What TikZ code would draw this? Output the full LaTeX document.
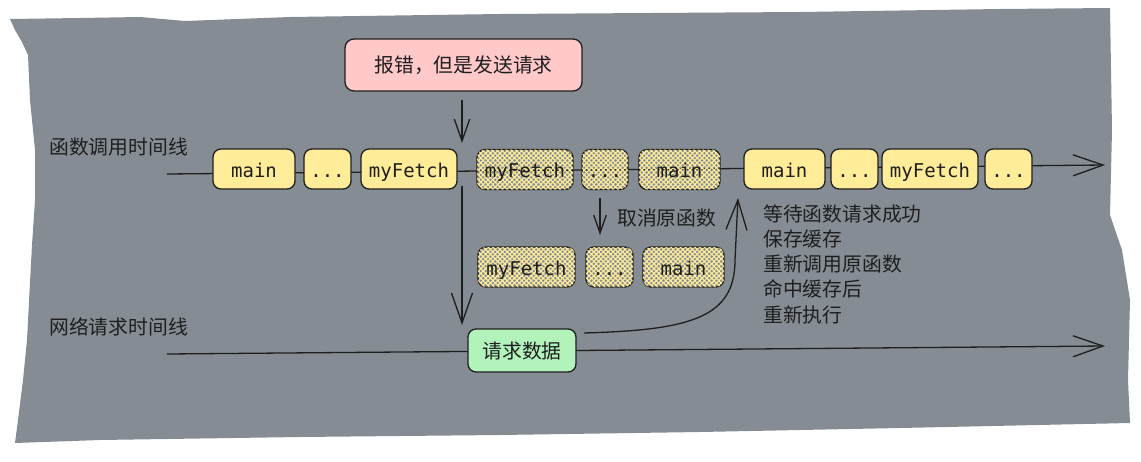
\documentclass[tikz,border=0pt]{standalone}
\usepackage{fontspec}
\newfontfamily\cjk{Noto Sans CJK SC}
\newfontfamily\monof{DejaVu Sans Mono}
\usetikzlibrary{arrows.meta,patterns.meta}
\definecolor{bggray}{HTML}{868C94}
\definecolor{ink}{HTML}{1E1E1E}
\definecolor{yel}{HTML}{FFEC99}
\definecolor{pinkf}{HTML}{FFC9C9}
\definecolor{greenf}{HTML}{B2F2BB}
\tikzset{
  cjktext/.style={text=ink,font=\cjk\fontsize{19.8}{25.25}\selectfont,inner sep=0pt},
  fbox/.style={draw=ink,line width=1.3pt,rounded corners=8pt,fill=yel,minimum height=40pt,inner sep=0pt,text height=18pt,text depth=2pt,text=ink,font=\monof\fontsize{19}{22}\selectfont},
  hbox/.style={draw=ink,line width=1.3pt,rounded corners=8pt,minimum height=40pt,inner sep=0pt,text height=18pt,text depth=2pt,text=ink,font=\monof\fontsize{19}{22}\selectfont,
    preaction={pattern={Lines[angle=45,distance=3.4pt,line width=1.2pt]},pattern color=yel},
    postaction={pattern={Lines[angle=-45,distance=3.4pt,line width=1.2pt]},pattern color=yel}},
  tline/.style={draw=ink,line width=1.4pt},
  arr/.style={draw=ink,line width=1.3pt,-{Straight Barb[length=#1,width=0.7*#1,line width=1.3pt]}},
}
\begin{document}
\begin{tikzpicture}[x=1pt,y=-1pt]
\useasboundingbox (0,0) rectangle (1141,461);
\fill[bggray] (10,19) -- (80,18) -- (140,17) -- (185,21) -- (290,17) -- (500,14) -- (800,12) -- (1000,9) -- (1110,8)
  -- (1112,130) -- (1110,215) -- (1122,250) -- (1130,300) -- (1128,380) -- (1130,423)
  -- (900,428) -- (700,432) -- (500,435) -- (300,437) -- (100,440) -- (15,443)
  -- (18,420) -- (23,380) -- (27,340) -- (32,245) -- (35,200) -- (35,150) -- (30,100) -- (28,55) -- (22,42) -- (15,30) -- cycle;

% timelines
\coordinate (t1s) at (167,174);
\coordinate (t1e) at (1105,165);
\coordinate (t2s) at (167,354);
\coordinate (t2e) at (1105,346);
\draw[tline,arr=30pt] (t1s) -- (t1e);
\draw[tline,arr=30pt] (t2s) -- (t2e);

% labels
\node[cjktext,anchor=west] (lab1) at (49,147) {函数调用时间线};
\node[cjktext,anchor=west] (lab2) at (49,327) {网络请求时间线};

% top row
\node[fbox,minimum width=82pt] (m1) at (254,169) {main};
\node[fbox,minimum width=47pt] (d1) at (327.5,169) {...};
\node[fbox,minimum width=96pt] (f1) at (409,169) {myFetch};
\node[hbox,minimum width=96pt] (hf1) at (525,169.5) {myFetch};
\node[hbox,minimum width=46pt] (hd1) at (605,169.5) {...};
\node[hbox,minimum width=81pt] (hm1) at (679.5,169.5) {main};
\node[fbox,minimum width=81pt] (m2) at (784.5,169) {main};
\node[fbox,minimum width=47pt] (d2) at (854.5,169) {...};
\node[fbox,minimum width=96pt] (f2) at (930,169) {myFetch};
\node[fbox,minimum width=47pt] (d3) at (1008.5,169) {...};

% second row
\node[hbox,minimum width=97pt] (hf2) at (526.5,267) {myFetch};
\node[hbox,minimum width=47pt] (hd2) at (609.5,267) {...};
\node[hbox,minimum width=81pt] (hm2) at (683.5,267) {main};

% red and green
\node[draw=ink,line width=1.3pt,rounded corners=9pt,fill=pinkf,minimum width=237pt,minimum height=52pt,inner sep=0pt,cjktext] (err) at (463.5,65) {报错，但是发送请求};
\node[draw=ink,line width=1.3pt,rounded corners=8pt,fill=greenf,minimum width=108pt,minimum height=43pt,inner sep=0pt,cjktext] (req) at (522,350.5) {请求数据};

% arrows
\coordinate (a1s) at (462,100);
\coordinate (a1e) at (462,143);
\draw[arr=22pt] (a1s) -- (a1e);
\coordinate (a2s) at (462,186);
\coordinate (a2e) at (462,325);
\draw[arr=30pt] (a2s) -- (a2e);
\coordinate (a3s) at (600,198);
\coordinate (a3e) at (600,235);
\draw[arr=18pt] (a3s) -- (a3e);
\node[cjktext,anchor=west] (cancel) at (617,218) {取消原函数};

\coordinate (c1s) at (584,333);
\coordinate (c1m) at (735,260);
\coordinate (c1e) at (738,198);
\draw[arr=30pt] (c1s) .. controls (690,330) and (735,318) .. (c1m) -- (c1e);

\node[cjktext,anchor=west,align=left] (note) at (763,264) {等待函数请求成功\\保存缓存\\重新调用原函数\\命中缓存后\\重新执行};
\end{tikzpicture}
\end{document}
